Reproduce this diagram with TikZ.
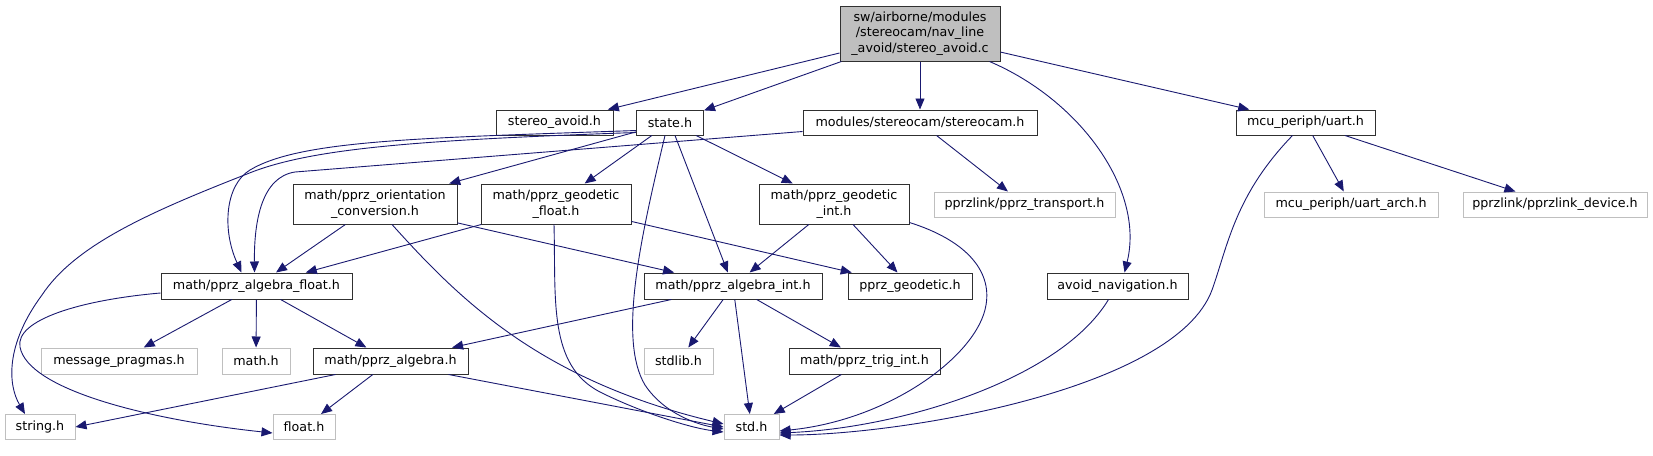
\documentclass[tikz,border=0pt]{standalone}
\usepackage{fontspec}
\setmainfont{DejaVu Sans}
\usetikzlibrary{arrows.meta,calc}
\definecolor{edgec}{HTML}{191970}
\definecolor{lgray}{HTML}{BFBFBF}
\definecolor{bordc}{HTML}{303030}
\begin{document}
\begin{tikzpicture}[x=1pt,y=-1pt,
  box/.style={draw=bordc,line width=1pt,inner sep=0pt,align=center,font=\fontsize{12.7}{15.5}\selectfont},
  gbox/.style={box,draw=lgray},
  e/.style={draw=edgec,line width=0.9pt,-{Triangle[length=11pt,width=9pt]}}]
\useasboundingbox (0,0) rectangle (1653,455);
% nodes
\node[box,fill=lgray,minimum width=160pt,minimum height=55pt] (main) at (920,33.5) {sw/airborne/modules\\/stereocam/nav\_line\\\_avoid/stereo\_avoid.c};
\node[box,minimum width=117pt,minimum height=25pt] (sa) at (554.5,122.5) {stereo\_avoid.h};
\node[box,minimum width=67pt,minimum height=25pt] (st) at (670,122.5) {state.h};
\node[box,minimum width=234pt,minimum height=25pt] (scam) at (920,122.5) {modules/stereocam/stereocam.h};
\node[box,minimum width=139pt,minimum height=25pt] (uart) at (1305.5,122.5) {mcu\_periph/uart.h};
\node[box,minimum width=164pt,minimum height=40pt] (orient) at (375,204) {math/pprz\_orientation\\\_conversion.h};
\node[box,minimum width=150pt,minimum height=40pt] (gfloat) at (556,204) {math/pprz\_geodetic\\\_float.h};
\node[box,minimum width=150pt,minimum height=40pt] (gint) at (834,204) {math/pprz\_geodetic\\\_int.h};
\node[gbox,minimum width=181pt,minimum height=25pt] (ptrans) at (1024.5,204.5) {pprzlink/pprz\_transport.h};
\node[gbox,minimum width=174pt,minimum height=25pt] (uarch) at (1351,204.5) {mcu\_periph/uart\_arch.h};
\node[gbox,minimum width=184pt,minimum height=25pt] (pdev) at (1555,204.5) {pprzlink/pprzlink\_device.h};
\node[box,minimum width=191pt,minimum height=26pt] (algf) at (256.5,286) {math/pprz\_algebra\_float.h};
\node[box,minimum width=178pt,minimum height=26pt] (algi) at (733,286) {math/pprz\_algebra\_int.h};
\node[box,minimum width=124pt,minimum height=26pt] (geo) at (910,286) {pprz\_geodetic.h};
\node[box,minimum width=141pt,minimum height=26pt] (avn) at (1117.5,286) {avoid\_navigation.h};
\node[gbox,minimum width=156pt,minimum height=26pt] (msg) at (119,361) {message\_pragmas.h};
\node[gbox,minimum width=68pt,minimum height=26pt] (mth) at (256,361) {math.h};
\node[box,minimum width=155pt,minimum height=26pt] (palg) at (390.5,361) {math/pprz\_algebra.h};
\node[gbox,minimum width=69pt,minimum height=26pt] (stdl) at (678.5,361) {stdlib.h};
\node[box,minimum width=151pt,minimum height=26pt] (trig) at (864.5,361) {math/pprz\_trig\_int.h};
\node[gbox,minimum width=70pt,minimum height=25pt] (str) at (40,427) {string.h};
\node[gbox,minimum width=62pt,minimum height=25pt] (flt) at (304,427) {float.h};
\node[gbox,minimum width=55pt,minimum height=25pt] (std) at (751.5,427) {std.h};
% straight edges
\draw[e] (main) -- (sa);
\draw[e] (main) -- (st);
\draw[e] (main) -- (scam);
\draw[e] (main) -- (uart);
\draw[e] (st) -- (orient);
\draw[e] (st) -- (gfloat);
\draw[e] (st) -- (algi);
\draw[e] (st) -- (gint);
\draw[e] (scam) -- (ptrans);
\draw[e] (uart) -- (uarch);
\draw[e] (uart) -- (pdev);
\draw[e] (orient) -- (algf);
\draw[e] (orient) -- (algi);
\draw[e] (gfloat) -- (algf);
\draw[e] (gfloat) -- (geo);
\draw[e] (gint) -- (algi);
\draw[e] (gint) -- (geo);
\draw[e] (algf) -- (msg);
\draw[e] (algf) -- (mth);
\draw[e] (algf) -- (palg);
\draw[e] (algi) -- (palg);
\draw[e] (algi) -- (stdl);
\draw[e] (algi) -- (std);
\draw[e] (algi) -- (trig);
\draw[e] (trig) -- (std);
\draw[e] (palg) -- (flt);
\draw[e] ($(palg.south)+(58,0)$) -- (std.west);
\draw[e] ($(palg.south)+(-55,0)$) -- (str.east);
% curved edges
\draw[e] ($(main.south east)+(-11,0)$) .. controls (1080,100) and (1145,190) .. ($(avn.north)+(7,0)$);
\draw[e] ($(scam.west)+(0,9)$) -- (295,172) .. controls (262,177) and (254,220) .. ($(algf.north)+(-2,0)$);
\draw[e] ($(st.west)+(0,8)$) .. controls (420,138) and (300,140) .. (250,170) .. controls (225,185) and (222,230) .. ($(algf.north)+(-15,0)$);
\draw[e] ($(st.west)+(0,10)$) .. controls (420,140) and (310,148) .. (247,174) .. controls (150,212) and (75,245) .. (42,295) .. controls (5,345) and (8,385) .. ($(str.north)+(-15,0)$);
\draw[e] ($(algf.west)+(0,7)$) .. controls (80,300) and (15,320) .. (20,347) .. controls (28,390) and (150,420) .. ($(flt.west)+(0,6)$);
\draw[e] ($(st.south)+(-5,0)$) .. controls (640,240) and (618,340) .. (645,385) .. controls (665,415) and (700,425) .. ($(std.west)+(0,2)$);
\draw[e] ($(gfloat.south)+(-2,0)$) .. controls (556,300) and (548,365) .. (600,392) .. controls (640,412) and (690,428) .. ($(std.west)+(0,5)$);
\draw[e] ($(orient.south)+(17,0)$) .. controls (460,300) and (540,380) .. ($(std.west)+(0,-3)$);
\draw[e] ($(gint.south east)+(0,-2)$) .. controls (965,240) and (992,270) .. (986,305) .. controls (978,355) and (890,420) .. ($(std.east)+(0,4)$);
\draw[e] ($(avn.south)+(-9,0)$) .. controls (1060,380) and (900,428) .. ($(std.east)+(0,6)$);
\draw[e] ($(uart.south)+(-13,0)$) .. controls (1235,195) and (1228,245) .. (1212,290) .. controls (1175,390) and (900,435) .. ($(std.east)+(0,8)$);
\end{tikzpicture}
\end{document}
